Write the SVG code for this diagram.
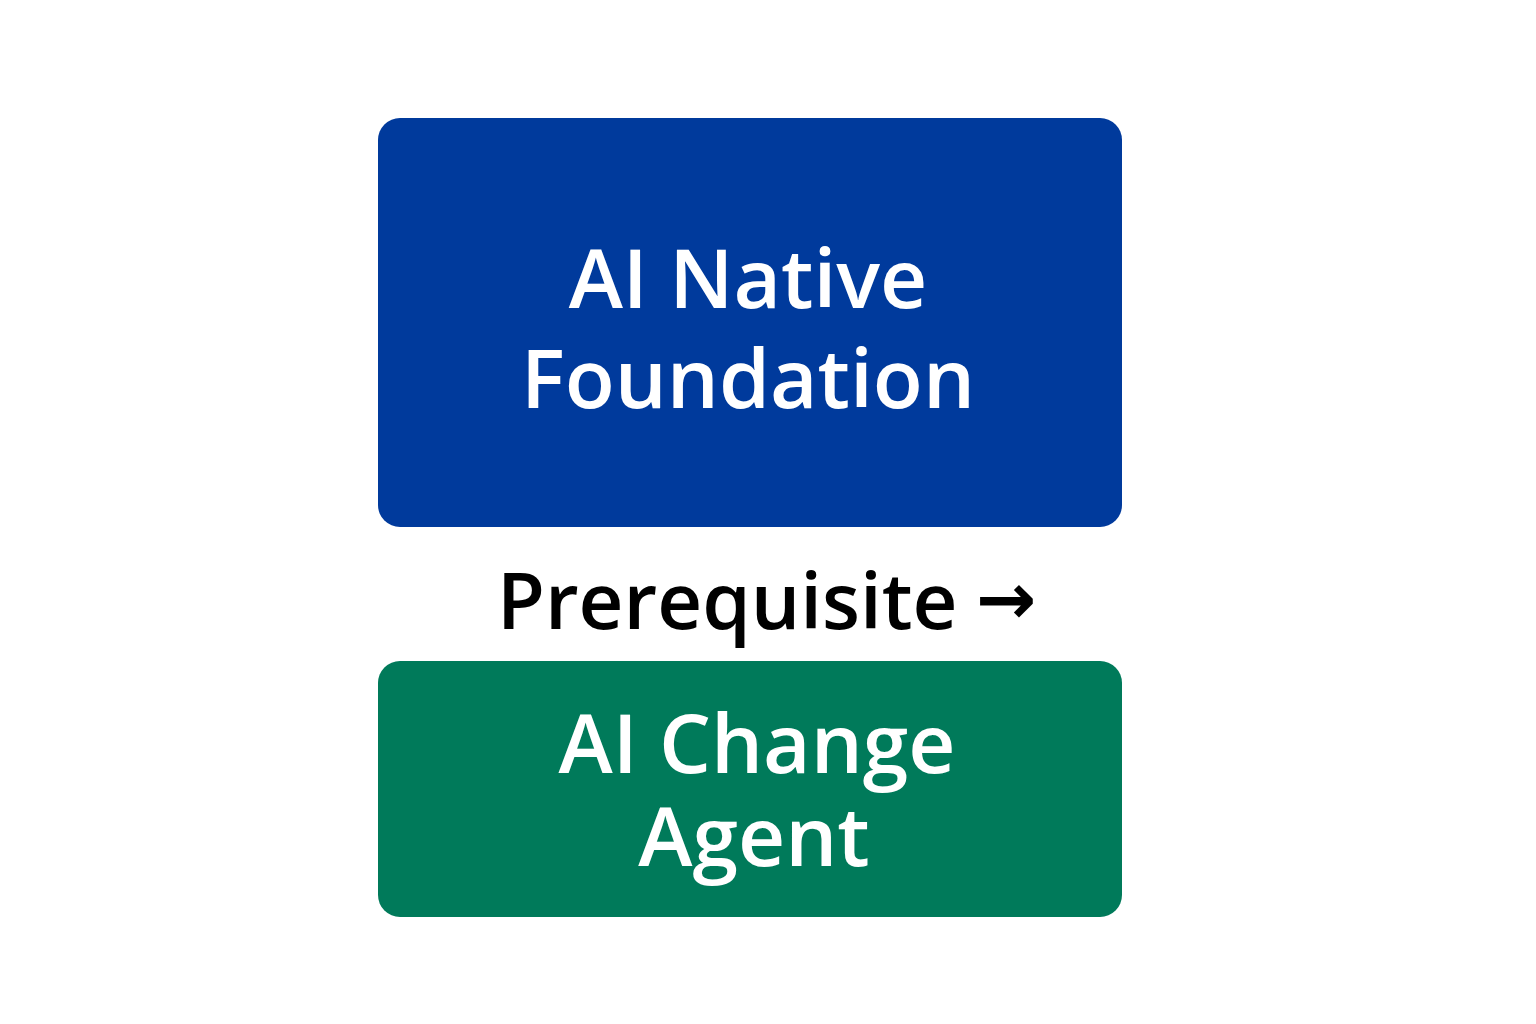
<svg xmlns="http://www.w3.org/2000/svg" width="1536" height="1024" viewBox="0 0 1536 1024">
<style>
.box-text{font-family:"Open Sans","Noto Sans",sans-serif;font-weight:600;font-size:82px;fill:#ffffff;text-anchor:middle}
.label{font-family:"Open Sans","Noto Sans",sans-serif;font-weight:600;font-size:78px;fill:#000000}
.arrow{font-family:"DejaVu Sans",sans-serif;font-weight:700;font-size:72px}
</style>
<rect width="1536" height="1024" fill="#ffffff"/>
<g id="node-foundation">
<rect x="378" y="118" width="744" height="409" rx="22" fill="#003A9C"/>
<text class="box-text" x="748" y="308">AI Native</text>
<text class="box-text" x="748" y="408">Foundation</text>
</g>
<g id="connectors">
<text class="label" x="497" y="629">Prerequisite<tspan class="arrow" x="976" y="624">→</tspan></text>
</g>
<g id="node-agent">
<rect x="378" y="661" width="744" height="256" rx="22" fill="#007A5A"/>
<text class="box-text" x="757" y="773">AI Change</text>
<text class="box-text" x="754" y="866">Agent</text>
</g>
</svg>
